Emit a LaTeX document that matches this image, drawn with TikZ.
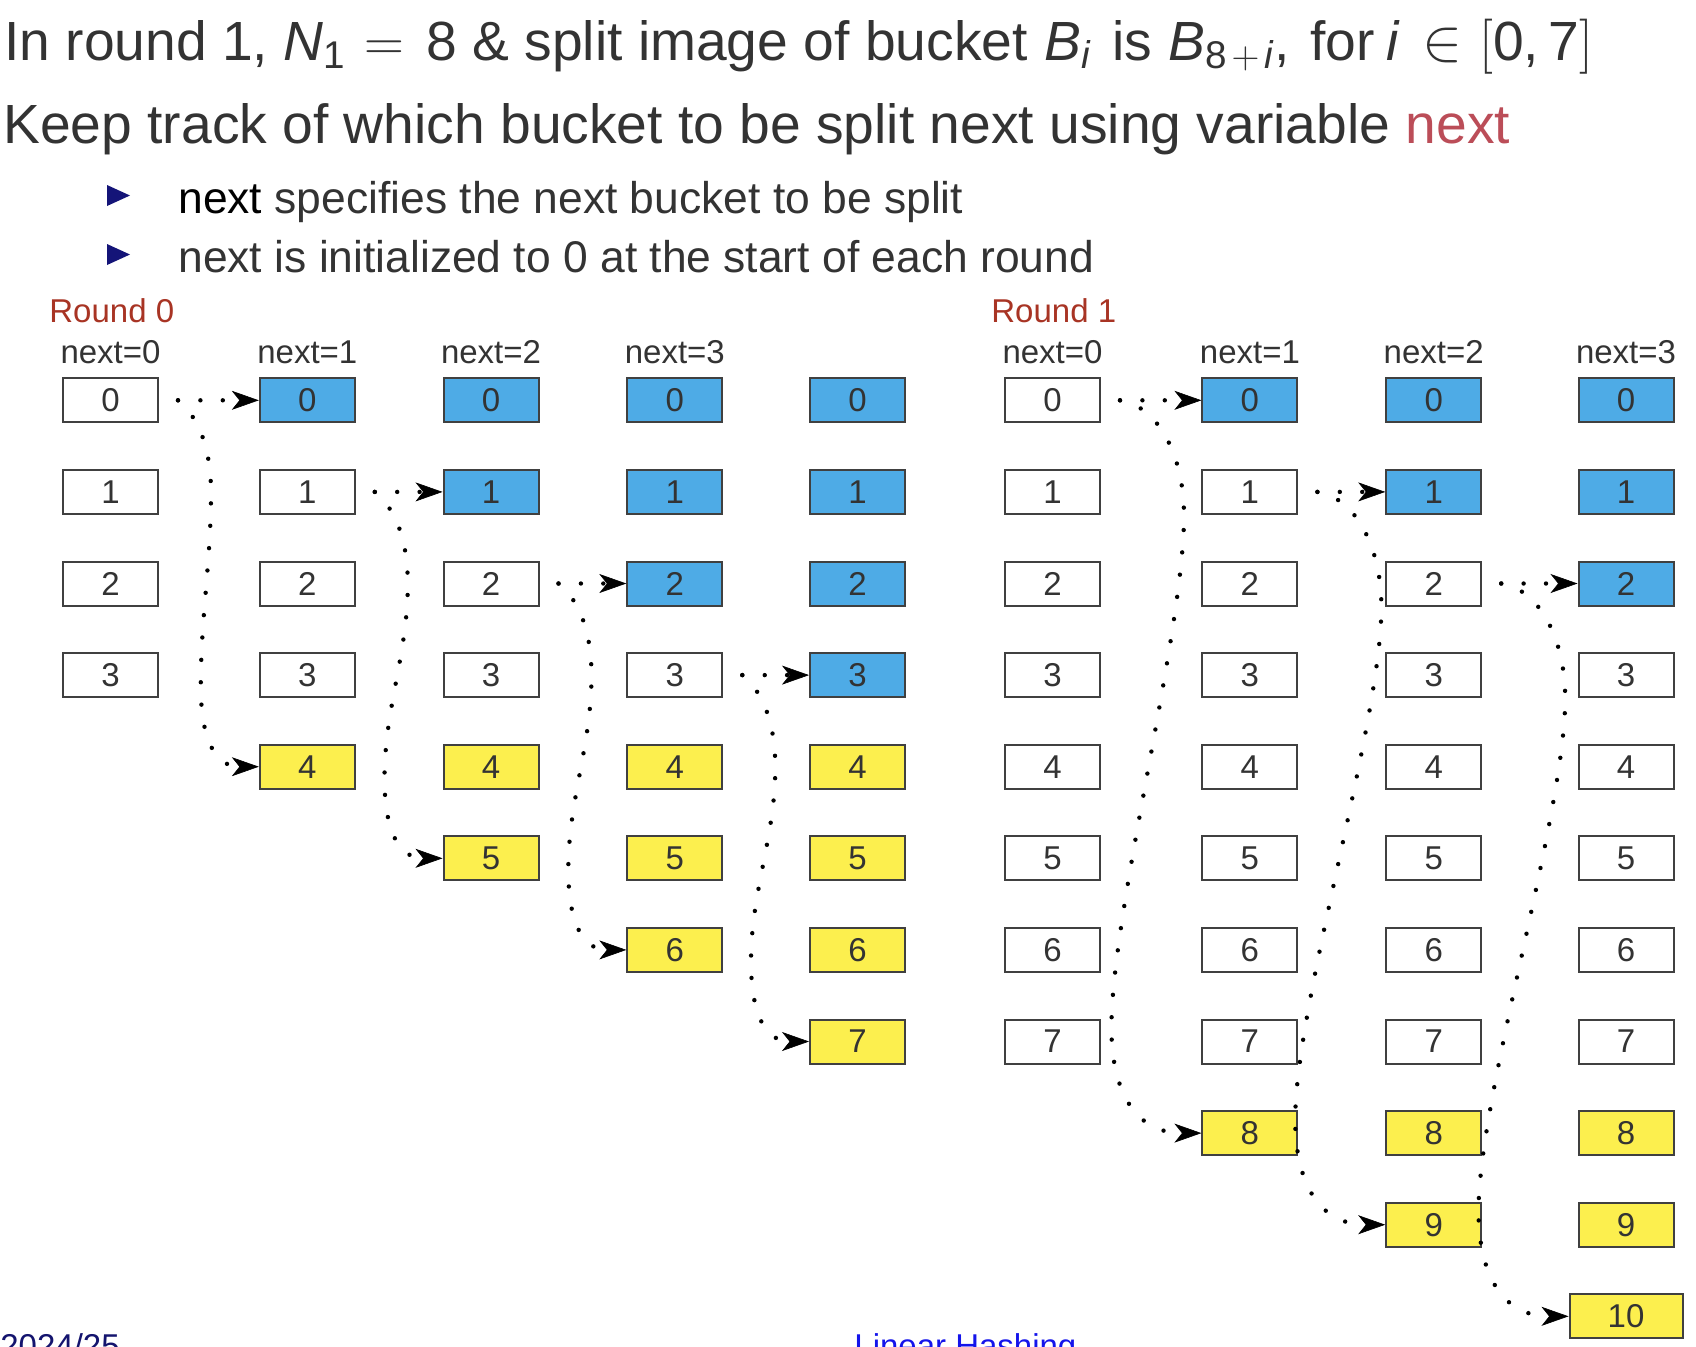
\RequirePackage{fix-cm}
\documentclass[tikz,border=0pt]{standalone}
\usepackage{fontspec}
\setmainfont{Liberation Sans}
\usetikzlibrary{calc,arrows.meta}
\definecolor{txt}{HTML}{333333}
\definecolor{bordergray}{HTML}{404040}
\definecolor{boxblue}{RGB}{78,171,230}
\definecolor{boxyellow}{RGB}{252,239,78}
\definecolor{roundred}{RGB}{168,52,36}
\definecolor{alertred}{RGB}{187,77,88}
\definecolor{bulletnavy}{RGB}{20,20,120}
\definecolor{footnavy}{RGB}{20,20,110}
\definecolor{footblue}{RGB}{20,20,235}
\newcommand\roundzero[3]{%
  \coordinate (s) at ($(#1.east)+(19,0)$);
  \draw[dotline,arr] (s) -- (#2.west);
  \draw[dotline,arr] (s) .. controls +(20,16) and +(0,-45) .. ($(s)+(33,92)$)
     .. controls +(0,70) and +(0,-70) .. ($(#3.west)+(-58,-80)$)
     .. controls +(0,52) and +(-44,0) .. (#3.west);
}
\newcommand\roundone[3]{%
  \coordinate (s) at ($(#1.east)+(19,0)$);
  \draw[dotline,arr] (s) -- (#2.west);
  \draw[dotline,arr] (s) .. controls +(38,6) and +(0,-60) .. ($(s)+(64,115)$)
     .. controls +(0,115) and +(0,-115) .. ($(#3.west)+(-90,-105)$)
     .. controls +(0,55) and +(-71,0) .. (#3.west);
}
\begin{document}
\begin{tikzpicture}[x=0.5pt,y=-0.5pt,
  bx/.style={draw=bordergray, line width=1pt, minimum width=47.5pt, minimum height=22pt,
     inner sep=0pt, text=txt, font=\fontsize{16.5}{16.5}\selectfont},
  lbl/.style={text=txt, inner sep=0pt, font=\fontsize{16.5}{16.5}\selectfont},
  dotline/.style={line width=2.2pt, line cap=round, dash pattern=on 0pt off 11.2pt},
  arr/.style={-{Stealth[length=13.5pt,width=9.5pt,inset=3.8pt,line width=0.3pt]}},
  big/.style={text=txt, inner sep=0pt, anchor=base west, font=\fontsize{27.6}{27.6}\selectfont},
  mid/.style={text=txt, inner sep=0pt, anchor=base west, font=\fontsize{22.2}{22.2}\selectfont},
  bul/.style={fill=bulletnavy, draw=none}
]
\fill[white] (0,0) rectangle (1696,1346);
\path[use as bounding box] (0,0) rectangle (1696,1346);
\clip (0,0) rectangle (1696,1346);

% title
\node[big] (t1a) at (4,60) {In round 1, \textit{N}\textsubscript{1}};
\node[big] (t1g) at (364,60) {$=$};
\node[big] (t1h) at (426,60) {8 \& split image of bucket};
\node[big] (t1b) at (1044,60) {\textit{B}\textsubscript{\textit{i}}};
\node[big] (t1i) at (1112,60) {is};
\node[big] (t1c) at (1168,60) {\textit{B}\textsubscript{8\hspace{2.5pt}$+$\hspace{2.5pt}\textit{i}},};
\node[big] (t1j) at (1310,60) {for};
\node[big] (t1d) at (1386,60) {\textit{i}};
\node[big] (t1e) at (1422,60) {\fontsize{30}{30}\selectfont$\in$};
\node[big] (t1f) at (1479,60) {$[$0,\,7$]$};
\node[big] (t2) at (3,143) {Keep track of which bucket to be split next using variable \textcolor{alertred}{next}};
\fill[bul] (107,185) -- (130,195.5) -- (107,206) -- cycle;
\fill[bul] (107,244) -- (130,254.5) -- (107,265) -- cycle;
\node[mid] (b1) at (178,213) {\textcolor{black}{next} specifies the next bucket to be split};
\node[mid] (b2) at (178,272) {next is initialized to 0 at the start of each round};

% round labels
\node[lbl, text=roundred, anchor=base west] (r0) at (49,322) {Round 0};
\node[lbl, text=roundred, anchor=base west] (r1) at (991,322) {Round 1};

% next labels
\foreach \x/\k [count=\i] in {110.5/0,307.3/1,491/2,674.8/3}
  \node[lbl, anchor=base] (na\i) at (\x,363) {next=\k};
\foreach \x/\k [count=\i] in {1052.5/0,1249.9/1,1433.7/2,1626/3}
  \node[lbl, anchor=base] (nb\i) at (\x,363) {next=\k};

% round 0 boxes
\foreach \c/\x in {1/110.5,2/307.3,3/491,4/674.8,5/857.5}{
  \pgfmathtruncatemacro\last{3+\c-1}
  \pgfmathtruncatemacro\nb{\c-1}
  \foreach \r in {0,...,\last}{
    \ifnum\r<\nb \def\fc{boxblue}\else\ifnum\r>3 \def\fc{boxyellow}\else\def\fc{white}\fi\fi
    \node[bx, fill=\fc] (a\c-\r) at (\x,{400.3+91.6*\r}) {\r};
  }
}
% round 1 boxes
\foreach \c/\x in {1/1052.5,2/1249.9,3/1433.7,4/1626}{
  \pgfmathtruncatemacro\last{7+\c-1}
  \pgfmathtruncatemacro\nb{\c-1}
  \foreach \r in {0,...,\last}{
    \ifnum\r<\nb \def\fc{boxblue}\else\ifnum\r>7 \def\fc{boxyellow}\else\def\fc{white}\fi\fi
    \ifnum\r>9 \def\mw{56.5pt}\else\def\mw{47.5pt}\fi
    \node[bx, fill=\fc, minimum width=\mw] (b\c-\r) at (\x,{400.3+91.6*\r}) {\r};
  }
}

% connectors
\roundzero{a1-0}{a2-0}{a2-4}
\roundzero{a2-1}{a3-1}{a3-5}
\roundzero{a3-2}{a4-2}{a4-6}
\roundzero{a4-3}{a5-3}{a5-7}
\roundone{b1-0}{b2-0}{b2-8}
\roundone{b2-1}{b3-1}{b3-9}
\roundone{b3-2}{b4-2}{b4-10}

% footer
\node[lbl, text=footnavy, anchor=base west] (f1) at (0,1357) {2024/25};
\node[lbl, text=footblue, anchor=base west] (f2) at (854,1357) {Linear Hashing};
\end{tikzpicture}
\end{document}
